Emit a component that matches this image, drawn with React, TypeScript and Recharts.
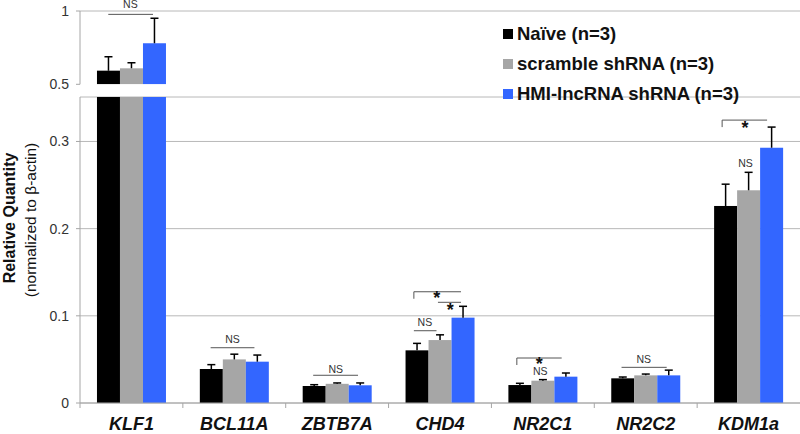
import React from 'react';
import { BarChart, Bar, XAxis, YAxis, ReferenceLine, ReferenceDot, Legend, CartesianGrid } from 'recharts';

const categories = ['KLF1', 'BCL11A', 'ZBTB7A', 'CHD4', 'NR2C1', 'NR2C2', 'KDM1a'];
const naive = [0.593, 0.039, 0.0195, 0.0604, 0.0206, 0.0283, 0.226];
const naiveErr = [0.095, 0.005, 0.0015, 0.008, 0.002, 0.0015, 0.025];
const scramble = [0.609, 0.05, 0.022, 0.0722, 0.0256, 0.0317, 0.244];
const scrambleErr = [0.038, 0.006, 0.001, 0.006, 0.0012, 0.0015, 0.0206];
const hmi = [0.78, 0.0474, 0.0203, 0.0979, 0.0302, 0.0317, 0.2928];
const hmiErr = [0.17, 0.0076, 0.0027, 0.013, 0.0042, 0.006, 0.0237];

const seriesNames = ['Naïve (n=3)', 'scramble shRNA (n=3)', 'HMI-lncRNA shRNA (n=3)'];
const seriesColors = ['#000000', '#a6a6a6', '#3366ff'];

const lowerTicks = [0, 0.1, 0.2, 0.3];
const upperTicks = [0.5, 1];

// significance annotations: category, value, horizontal extent relative to the category centre (in category widths)
const upperLines = [{ cat: 'KLF1', y: 0.977, d1: -0.225, d2: 0.21, leg: false }];
const upperTexts = [{ cat: 'KLF1', y: 1.02, d: -0.01, text: 'NS', star: false }];
const lowerLines = [
  { cat: 'BCL11A', y: 0.0634, d1: -0.23, d2: 0.196, leg: false },
  { cat: 'ZBTB7A', y: 0.0318, d1: -0.233, d2: 0.203, leg: false },
  { cat: 'CHD4', y: 0.0829, d1: -0.254, d2: -0.034, leg: false },
  { cat: 'CHD4', y: 0.1276, d1: -0.254, d2: 0.204, leg: true },
  { cat: 'CHD4', y: 0.1155, d1: -0.02, d2: 0.204, leg: false },
  { cat: 'NR2C1', y: 0.0516, d1: -0.253, d2: 0.183, leg: true },
  { cat: 'NR2C2', y: 0.0409, d1: -0.235, d2: 0.204, leg: false },
  { cat: 'KDM1a', y: 0.3245, d1: -0.257, d2: 0.18, leg: true },
];
const lowerTexts = [
  { cat: 'BCL11A', y: 0.0685, d: -0.017, text: 'NS', star: false },
  { cat: 'ZBTB7A', y: 0.0344, d: -0.013, text: 'NS', star: false },
  { cat: 'CHD4', y: 0.0883, d: -0.147, text: 'NS', star: false },
  { cat: 'NR2C1', y: 0.0318, d: -0.026, text: 'NS', star: false },
  { cat: 'NR2C2', y: 0.0455, d: -0.019, text: 'NS', star: false },
  { cat: 'KDM1a', y: 0.2703, d: -0.03, text: 'NS', star: false },
  { cat: 'CHD4', y: 0.1253, d: -0.031, text: '*', star: true },
  { cat: 'CHD4', y: 0.1118, d: 0.1, text: '*', star: true },
  { cat: 'NR2C1', y: 0.049, d: -0.035, text: '*', star: true },
  { cat: 'KDM1a', y: 0.32, d: -0.035, text: '*', star: true },
];

const data = categories.map((gene, i) => ({
  gene,
  naive: naive[i],
  naiveErr: naiveErr[i],
  scramble: scramble[i],
  scrambleErr: scrambleErr[i],
  hmi: hmi[i],
  hmiErr: hmiErr[i],
}));

const FONT = '"Liberation Sans", Arial, Helvetica, sans-serif';
const PLOT_W = 720;
const CAT_W = PLOT_W / categories.length;
const AXIS_COLOR = '#a6a6a6';
const GRID_COLOR = '#b8b8b8';
const ANN_COLOR = '#555';

function makeShape(key: string, errKey: string, base: number) {
  return (props: any) => {
    const { x, y, width, height, fill, payload } = props;
    const v = payload ? payload[key] : null;
    if (v == null || v <= base || !(height > 0)) return null;
    const ppu = height / (v - base);
    const top = y - payload[errKey] * ppu;
    const cx = x + width / 2;
    return (
      <g>
        <rect x={x} y={y} width={width} height={height} fill={fill} />
        <line x1={cx} x2={cx} y1={y} y2={top} stroke="#000" strokeWidth={1.5} />
        <line x1={cx - 4} x2={cx + 4} y1={top} y2={top} stroke="#000" strokeWidth={1.5} />
      </g>
    );
  };
}

const XTick = (props: any) => {
  const { x, y, payload } = props;
  const bx = x - CAT_W / 2;
  return (
    <g>
      <line x1={bx} x2={bx} y1={y} y2={y + 5} stroke={AXIS_COLOR} strokeWidth={1} />
      <text x={x} y={y + 27} textAnchor="middle" fontFamily={FONT} fontWeight="bold" fontStyle="italic" fontSize={18} fill="#111">
        {payload.value}
      </text>
    </g>
  );
};

const renderLegend = (props: any) => {
  const payload = [...(props.payload || [])].sort(
    (a: any, b: any) => seriesNames.indexOf(a.value) - seriesNames.indexOf(b.value)
  );
  return (
    <div style={{ fontFamily: FONT, fontWeight: 700, fontSize: 18.5, color: '#111' }}>
      {payload.map((p: any) => (
        <div key={p.value} style={{ display: 'flex', alignItems: 'center', height: 30, whiteSpace: 'nowrap' }}>
          <span style={{ display: 'inline-block', width: 10, height: 10, background: p.color, marginRight: 4 }} />
          {p.value}
        </div>
      ))}
    </div>
  );
};

const YTitle = () => (
  <g>
    <text transform="translate(15,218) rotate(-90)" textAnchor="middle" fontFamily={FONT} fontWeight="bold" fontSize={16} fill="#111">
      Relative Quantity
    </text>
    <text transform="translate(36,220) rotate(-90)" textAnchor="middle" fontFamily={FONT} fontSize={15.5} fill="#111">
      (normalized to β-actin)
    </text>
  </g>
);

function renderAnnotations(lines: any[], texts: any[], prefix: string) {
  const out: any[] = [];
  lines.forEach((l, i) => {
    out.push(
      <ReferenceDot
        key={`${prefix}l${i}`}
        xAxisId="cat"
        x={l.cat}
        y={l.y}
        r={0}
        ifOverflow="visible"
        shape={(p: any) => {
          const x1 = p.cx + l.d1 * CAT_W;
          const x2 = p.cx + l.d2 * CAT_W;
          return (
            <g>
              <line x1={x1} x2={x2} y1={p.cy} y2={p.cy} stroke={ANN_COLOR} strokeWidth={1} />
              {l.leg ? <line x1={x1} x2={x1} y1={p.cy} y2={p.cy + 7} stroke={ANN_COLOR} strokeWidth={1} /> : null}
            </g>
          );
        }}
      />
    );
  });
  texts.forEach((t, i) => {
    out.push(
      <ReferenceDot
        key={`${prefix}t${i}`}
        xAxisId="cat"
        x={t.cat}
        y={t.y}
        r={0}
        ifOverflow="visible"
        shape={(p: any) => (
          <text
            x={p.cx + t.d * CAT_W}
            y={p.cy + (t.star ? 10 : 0)}
            textAnchor="middle"
            fontFamily={FONT}
            fontWeight={t.star ? 'bold' : 'normal'}
            fontSize={t.star ? 18 : 10.5}
            fill={t.star ? '#111' : '#333'}
          >
            {t.text}
          </text>
        )}
      />
    );
  });
  return out;
}

const keys = ['naive', 'scramble', 'hmi'];

export default function App() {
  return (
    <div style={{ position: 'absolute', left: 0, top: 0, width: 800, height: 434, background: '#fff', overflow: 'hidden' }}>
      <div style={{ position: 'absolute', left: 0, top: 0 }}>
        <BarChart
          width={800}
          height={434}
          data={data}
          margin={{ top: 97, right: 0, bottom: 0, left: 0 }}
          barCategoryGap="16.5%"
          barGap={0}
        >
          <CartesianGrid xAxisId="cat" vertical={false} stroke={GRID_COLOR} />
          <XAxis
            xAxisId="cat"
            dataKey="gene"
            height={31}
            interval={0}
            tickLine={false}
            tickSize={0}
            tickMargin={0}
            axisLine={{ stroke: AXIS_COLOR }}
            tick={<XTick />}
          />
          <YAxis
            width={80}
            domain={[0, 0.351]}
            ticks={lowerTicks}
            allowDataOverflow
            tickSize={4}
            tickMargin={7}
            axisLine={{ stroke: AXIS_COLOR }}
            tickLine={{ stroke: AXIS_COLOR }}
            tick={{ fontFamily: FONT, fontSize: 14, fill: '#333' }}
            label={{ content: () => <YTitle /> }}
          />
          {keys.map((k, i) => (
            <Bar
              key={k}
              xAxisId="cat"
              dataKey={k}
              name={seriesNames[i]}
              fill={seriesColors[i]}
              isAnimationActive={false}
              shape={makeShape(k, k + 'Err', 0)}
            />
          ))}
          {renderAnnotations(lowerLines, lowerTexts, 'lo')}
        </BarChart>
      </div>
      <div style={{ position: 'absolute', left: 0, top: 0 }}>
        <BarChart
          width={800}
          height={97}
          data={data}
          margin={{ top: 11, right: 0, bottom: 12.7, left: 0 }}
          barCategoryGap="16.5%"
          barGap={0}
        >
          <XAxis xAxisId="cat" dataKey="gene" hide />
          <YAxis
            width={80}
            domain={[0.5, 1]}
            ticks={upperTicks}
            allowDataOverflow
            tickSize={4}
            tickMargin={7}
            axisLine={{ stroke: AXIS_COLOR }}
            tickLine={{ stroke: AXIS_COLOR }}
            tick={{ fontFamily: FONT, fontSize: 14, fill: '#333' }}
          />
          <ReferenceLine xAxisId="cat" y={1} stroke={GRID_COLOR} />
          {keys.map((k, i) => (
            <Bar
              key={k}
              xAxisId="cat"
              dataKey={k}
              name={seriesNames[i]}
              fill={seriesColors[i]}
              isAnimationActive={false}
              shape={makeShape(k, k + 'Err', 0.5)}
            />
          ))}
          {renderAnnotations(upperLines, upperTexts, 'up')}
          <Legend
            layout="vertical"
            align="center"
            verticalAlign="middle"
            content={renderLegend}
            wrapperStyle={{ left: 503, top: 18.5, width: 297 }}
          />
        </BarChart>
      </div>
    </div>
  );
}
